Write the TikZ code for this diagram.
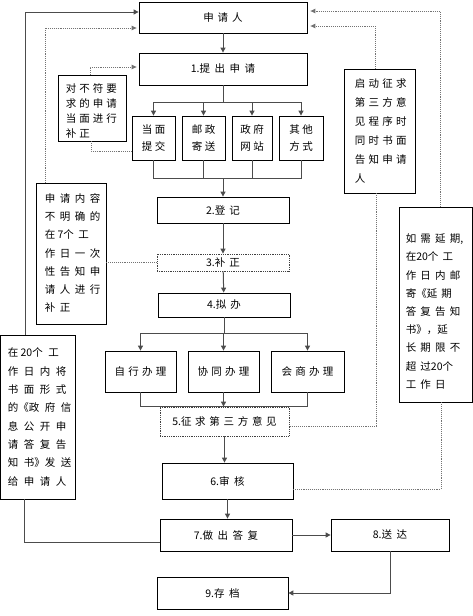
\documentclass[tikz,border=0pt]{standalone}
\usepackage{fontspec}
\setmainfont{Noto Sans CJK SC}
\usetikzlibrary{arrows.meta,calc}
\XeTeXinterchartokenstate=1
\newXeTeXintercharclass\cjkcls
\newcount\cjkc
\cjkc="4E00
\loop\XeTeXcharclass\cjkc=\cjkcls\advance\cjkc by 1\ifnum\cjkc<"A000\repeat
\newlength\cjkgap
\XeTeXinterchartoks\cjkcls\cjkcls={\hskip\cjkgap\relax}
\tikzset{
 box/.style={draw=black, line width=0.8pt, inner sep=0pt, rectangle},
 dbox/.style={box, draw=black!75, densely dotted},
 conn/.style={draw=black!70, line width=1pt},
 arr/.style={conn, -{Triangle[length=5pt,width=5pt]}},
 dl/.style={draw=black!55, densely dotted, line width=0.9pt},
 darr/.style={dl, -{Triangle[length=5pt,width=4.5pt]}},
 txt/.style={font=\fontsize{10.5}{16.7}\selectfont, text=black, align=center},
 cg/.style={execute at begin node={\setlength\cjkgap{#1pt}}},
 sz/.style 2 args={minimum width=#1pt, minimum height=#2pt},
 side/.style={anchor=west, align=left, inner sep=0pt, text=black},
}
\begin{document}
\begin{tikzpicture}[x=1pt,y=-1pt]
\useasboundingbox (0,0) rectangle (473,616);
% main boxes
\node[box,txt,cg=4,sz={168}{31}] (A) at (223,17.5) {申请人};
\node[box,txt,cg=4.5,sz={168}{32}] (B) at (223,69) {1.提出申请};
\node[box,txt,cg=2.5,sz={43}{44}] (C1) at (153.5,138) {当面\\提交};
\node[box,txt,cg=2.5,sz={43}{44}] (C2) at (203.5,138) {邮政\\寄送};
\node[box,txt,cg=2.5,sz={40}{44}] (C3) at (252,138) {政府\\网站};
\node[box,txt,cg=2.5,sz={44}{44}] (C4) at (301,138) {其他\\方式};
\node[box,txt,cg=4,sz={132}{26}] (D) at (223,210) {2.登记};
\node[dbox,txt,cg=4,sz={132}{17}] (E) at (223,262.5) {3.补正};
\node[box,txt,cg=4,sz={132}{24}] (F) at (224,305) {4.拟办};
\node[box,txt,cg=3.3,sz={71}{41}] (G1) at (140.5,371.5) {自行办理};
\node[box,txt,cg=3.3,sz={71}{41}] (G2) at (223.5,371.5) {协同办理};
\node[box,txt,cg=3.3,sz={73}{41}] (G3) at (307.5,371.5) {会商办理};
\node[dbox,txt,cg=3.7,sz={129}{29}] (H) at (224.5,421.5) {5.征求第三方意见};
\node[box,txt,cg=4.5,sz={131}{36}] (I) at (227.5,481) {6.审核};
\node[box,txt,cg=4.5,sz={132}{32}] (J) at (226,535) {7.做出答复};
\node[box,txt,cg=4.5,sz={118}{32}] (K) at (390,535) {8.送达};
\node[box,txt,cg=4.5,sz={131}{32}] (L) at (222.5,593) {9.存档};
% side boxes
\node[box,sz={68}{66}] (M) at (92,108) {};
\node[side,cg=3,font=\fontsize{10.5}{15}\selectfont] (Mt) at ($(M.west)+(8,2.5)$) {对不符要\\求的申请\\当面进行\\补正};
\node[box,sz={70}{141}] (N) at (71,253.5) {};
\node[side,cg=4.5,font=\fontsize{10.5}{18.3}\selectfont] (Nt) at ($(N.west)+(9,-0.5)$) {申请内容\\不明确的\\在 7个工\\作日一次\\性告知申\\请人进行\\补正};
\node[box,sz={74.5}{164}] (O) at (37.75,417) {};
\node[side,cg=5.5,font=\fontsize{10.5}{18.3}\selectfont] (Ot) at ($(O.west)+(7.5,0)$) {在 20个工\\作日内将\\书面形式\\的《政府信\\息公开申\\请答复告\\知书》发送\\给申请人};
\node[box,sz={71}{124}] (P) at (379.5,131) {};
\node[side,cg=3.3,font=\fontsize{10.5}{19}\selectfont] (Pt) at ($(P.west)+(11,-0.5)$) {启动征求\\第三方意\\见程序时\\同时书面\\告知申请\\人};
\node[box,sz={73}{195}] (Q) at (435.5,304.5) {};
\node[side,cg=4.2,font=\fontsize{10.5}{18.2}\selectfont] (Qt) at ($(Q.west)+(7,7)$) {如需延期,\\在20个工\\作日内邮\\寄《延期\\答复告知\\书》，延\\长期限不\\超过20个\\工作日};
% main flow
\draw[arr] (A) -- (B);
\coordinate (b1) at ($(B.south)+(0,17)$);
\draw[conn] (B.south) -- (b1);
\draw[conn] (b1 -| C1) -- (b1 -| C4);
\foreach \n in {C1,C2,C3,C4} \draw[arr] (b1 -| \n) -- (\n.north);
\coordinate (c1) at ($(D.north)+(0,-18)$);
\draw[conn] (C1.south) |- (c1 -| C4.south) -- (C4.south);
\draw[conn] (C2.south) -- (C2.south |- c1);
\draw[conn] (C3.south) -- (C3.south |- c1);
\draw[arr] (c1) -- (D.north);
\draw[arr] (D) -- (E);
\draw[arr] (E) -- (F);
\coordinate (f1) at ($(F.south)+(0,16)$);
\draw[conn] (F.south) -- (f1);
\draw[conn] (f1 -| G1) -- (f1 -| G3);
\foreach \n in {G1,G2,G3} \draw[arr] (f1 -| \n) -- (\n.north);
\draw[conn] (G1.south) |- (H.north -| G3.south) -- (G3.south);
\draw[arr] (G2.south) -- (G2.south |- H.north);
\draw[arr] (H.south) -- (H.south |- I.north);
\draw[arr] (I.south) -- (I.south |- J.north);
\draw[arr] (J) -- (K);
\draw[arr] (K.south) |- (L.east);
% left solid loop
\draw[arr] ($(O.north)+(-12.5,0)$) |- ($(A.west)+(0,-5.5)$);
\draw[conn] ($(O.south)+(-13.5,0)$) |- ($(J.west)+(0,7)$);
% dotted connectors
\draw[darr] ($(N.north)+(-26,0)$) |- ($(A.west)+(-2,10.5)$);
\draw[dl] (N.east |- E.west) -- (E.west);
\draw[darr] ($(M.north)+(-2,0)$) |- ($(B.west)+(-2,-2)$);
\draw[dl] ($(M.south)+(-1,0)$) |- ($(C1.west)+(0,13)$);
\draw[darr] ($(P.north)+(-4.5,0)$) |- ($(A.east)+(3,8.5)$);
\draw[dl] ($(P.south)+(-3.5,0)$) |- ($(H.east)+(0,4.5)$);
\draw[darr] ($(Q.north)+(4.5,0)$) |- ($(A.east)+(3,-6.5)$);
\draw[dl] ($(Q.south)+(5.5,0)$) |- ($(I.east)+(0,8)$);
\end{tikzpicture}
\end{document}
